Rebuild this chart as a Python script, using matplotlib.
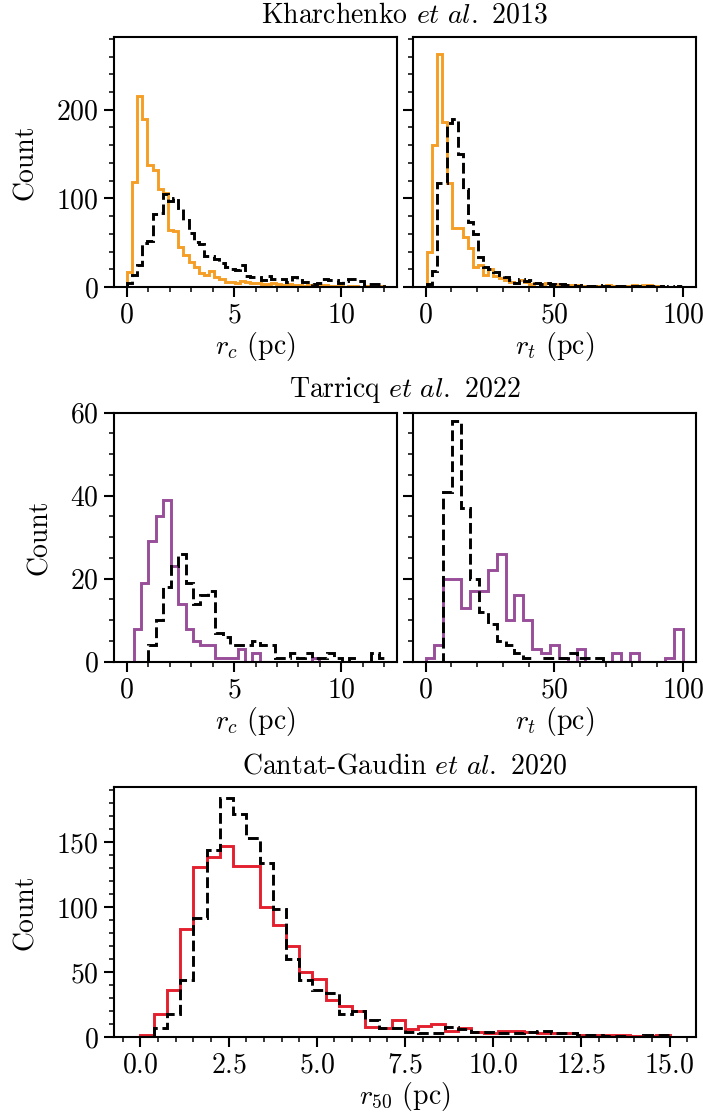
import numpy as np
import matplotlib
matplotlib.use("Agg")
import matplotlib.pyplot as plt
from matplotlib.ticker import MultipleLocator

# ---------------- data ----------------
# Kharchenko et al. 2013 -- core radius r_c (pc)
k13_rc_edges = np.linspace(0.0, 12.0, 51)
k13_rc_ref = [17, 119, 216, 189, 138, 132, 111, 106, 64, 63,
              45, 36, 28, 23, 16, 13, 18, 11, 9, 6,
              6, 5, 7, 6, 5, 4, 3, 3, 4, 3,
              2, 3, 2, 2, 1, 2, 1, 1, 2, 1,
              1, 1, 0, 1, 1, 0, 1, 0, 0, 1]
k13_rc_ours = [4, 13, 25, 50, 52, 82, 84, 105, 97, 100,
               89, 76, 61, 51, 49, 35, 35, 32, 27, 22,
               20, 19, 25, 12, 11, 11, 8, 12, 9, 9,
               9, 6, 11, 8, 6, 6, 3, 4, 9, 8,
               8, 4, 7, 9, 9, 7, 2, 3, 3, 3]
# Kharchenko et al. 2013 -- tidal radius r_t (pc)
k13_rt_edges = np.linspace(0.5, 100.0, 51)
k13_rt_ref = [39, 160, 263, 186, 117, 67, 67, 56, 44, 22,
              25, 14, 20, 12, 10, 8, 6, 4, 8, 6,
              3, 5, 3, 4, 3, 3, 3, 2, 2, 2,
              1, 1, 1, 1, 0, 2, 1, 1, 0, 1,
              2, 1, 2, 2, 1, 1, 0, 0, 0, 0]
k13_rt_ours = [3, 18, 117, 117, 185, 189, 150, 110, 73, 60,
               34, 22, 20, 17, 13, 11, 8, 5, 9, 7,
               8, 4, 3, 4, 3, 2, 3, 2, 2, 1,
               2, 1, 1, 2, 1, 1, 1, 1, 1, 1,
               1, 1, 0, 1, 1, 1, 0, 1, 0, 1]
# Tarricq et al. 2022 -- r_c
t22_rc_edges = np.linspace(0.31, 12.1, 35)
t22_rc_ref = [8, 19, 29, 35, 39, 23, 14, 8, 5, 4,
              4, 1, 1, 1, 3, 0, 2, 0, 0, 0,
              0, 0, 0, 0, 1, 0, 0, 0, 0, 0,
              0, 0, 0, 0]
t22_rc_ours = [0, 0, 4, 10, 18, 23, 26, 19, 14, 16,
               17, 7, 6, 4, 4, 4, 5, 4, 4, 1,
               1, 2, 1, 2, 1, 1, 2, 1, 0, 1,
               0, 0, 2, 1]
# Tarricq et al. 2022 -- r_t
t22_rt_edges = np.linspace(0.0, 100.0, 30)
t22_rt_ref = [1, 4, 20, 20, 13, 17, 17, 22, 26, 10,
              16, 10, 3, 2, 4, 1, 0, 3, 0, 0,
              0, 2, 0, 2, 0, 0, 0, 1, 8]
t22_rt_ours = [0, 0, 41, 58, 37, 20, 12, 9, 5, 4,
               2, 1, 0, 1, 1, 1, 2, 1, 1, 1,
               0, 0, 0, 0, 0, 0, 0, 0, 0]
# Cantat-Gaudin et al. 2020 -- r_50
cg20_edges = np.linspace(0.0, 15.0, 41)
cg20_ref = [2, 18, 36, 83, 131, 139, 147, 132, 132, 100,
            86, 70, 50, 45, 29, 24, 20, 8, 7, 13,
            6, 9, 10, 5, 7, 4, 3, 5, 5, 4,
            3, 3, 3, 2, 2, 2, 2, 1, 1, 2]
cg20_ours = [0, 7, 18, 44, 92, 144, 184, 172, 153, 134,
             99, 60, 44, 36, 34, 18, 20, 13, 7, 7,
             4, 3, 3, 8, 6, 4, 4, 3, 3, 4,
             5, 3, 3, 2, 2, 1, 1, 0, 2, 2]

titles = [r"Kharchenko $\mathit{et\ al.}$ 2013",
          r"Tarricq $\mathit{et\ al.}$ 2022",
          r"Cantat-Gaudin $\mathit{et\ al.}$ 2020"]

C_ORANGE = "#F59E26"
C_PURPLE = "#984E98"
C_RED = "#E3202F"

# ---------------- style ----------------
plt.rcParams.update({
    "font.family": "cmr10",
    "mathtext.fontset": "cm",
    "axes.formatter.use_mathtext": True,
    "font.size": 20,
    "axes.unicode_minus": False,
})

W, H = 703, 1115
fig = plt.figure(figsize=(W / 100, H / 100), dpi=100)


def add_ax(x0, y0, x1, y1):
    return fig.add_axes([x0 / W, 1 - y1 / H, (x1 - x0) / W, (y1 - y0) / H])


def style(ax, xmaj, xmin, ymaj, ymin):
    ax.xaxis.set_major_locator(MultipleLocator(xmaj))
    ax.xaxis.set_minor_locator(MultipleLocator(xmin))
    ax.yaxis.set_major_locator(MultipleLocator(ymaj))
    ax.yaxis.set_minor_locator(MultipleLocator(ymin))
    ax.tick_params(which="major", length=7, width=1.5, direction="out",
                   labelsize=20, pad=4)
    ax.tick_params(which="minor", length=3.5, width=1.1, direction="out")
    for s in ax.spines.values():
        s.set_linewidth(1.5)


LW = 2.1

ax_tl = add_ax(114, 37, 397, 287)
ax_tr = add_ax(412.7, 37, 696, 287)
ax_ml = add_ax(114, 412.7, 397, 661.7)
ax_mr = add_ax(412.7, 412.7, 696, 661.7)
ax_b = add_ax(114, 787.3, 696, 1037.3)

# top row
ax_tl.stairs(k13_rc_ref, k13_rc_edges, color=C_ORANGE, lw=LW)
ax_tl.stairs(k13_rc_ours, k13_rc_edges, color="k", lw=LW, ls="--")
ax_tr.stairs(k13_rt_ref, k13_rt_edges, color=C_ORANGE, lw=LW)
ax_tr.stairs(k13_rt_ours, k13_rt_edges, color="k", lw=LW, ls="--")
# middle row
ax_ml.stairs(t22_rc_ref, t22_rc_edges, color=C_PURPLE, lw=LW)
ax_ml.stairs(t22_rc_ours, t22_rc_edges, color="k", lw=LW, ls="--")
ax_mr.stairs(t22_rt_ref, t22_rt_edges, color=C_PURPLE, lw=LW)
ax_mr.stairs(t22_rt_ours, t22_rt_edges, color="k", lw=LW, ls="--")
# bottom
ax_b.stairs(cg20_ref, cg20_edges, color=C_RED, lw=LW)
ax_b.stairs(cg20_ours, cg20_edges, color="k", lw=LW, ls="--")

for ax in (ax_tl, ax_ml):
    ax.set_xlim(-0.6, 12.6)
    ax.set_xlabel(r"$r_c$ (pc)", labelpad=1)
    ax.set_ylabel("Count", labelpad=12)
for ax in (ax_tr, ax_mr):
    ax.set_xlim(-5, 105)
    ax.set_xlabel(r"$r_t$ (pc)", labelpad=1)

for ax in (ax_tl, ax_tr):
    ax.set_ylim(0, 282)
for ax in (ax_ml, ax_mr):
    ax.set_ylim(0, 60)

style(ax_tl, 5, 1, 100, 20)
style(ax_tr, 50, 10, 100, 20)
style(ax_ml, 5, 1, 20, 5)
style(ax_mr, 50, 10, 20, 5)
style(ax_b, 2.5, 0.5, 50, 10)
ax_tr.tick_params(labelleft=False)
ax_mr.tick_params(labelleft=False)

ax_b.set_xlim(-0.75, 15.75)
ax_b.set_ylim(0, 192.3)
ax_b.set_xlabel(r"$r_{50}$ (pc)", labelpad=1)
ax_b.set_ylabel("Count", labelpad=12)

xc = 405 / W
fig.text(xc, 1 - 15 / H, titles[0], ha="center", va="center", fontsize=20)
fig.text(xc, 1 - 390 / H, titles[1], ha="center", va="center", fontsize=20)
fig.text(xc, 1 - 766 / H, titles[2], ha="center", va="center", fontsize=20)

fig.savefig("out.png", dpi=100)
